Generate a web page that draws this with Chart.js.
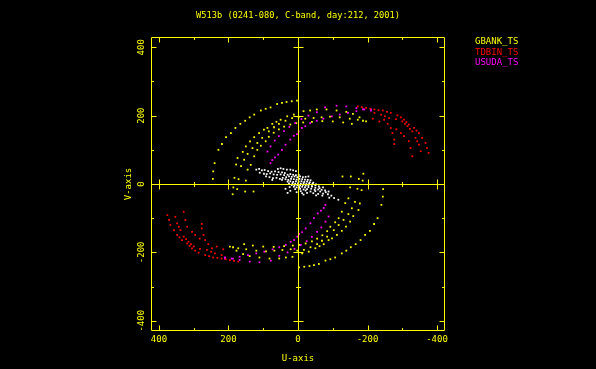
<!DOCTYPE html>
<html><head><meta charset="utf-8">
<script src="https://cdn.jsdelivr.net/npm/chart.js@4"></script>
<style>html,body{margin:0;padding:0;background:#000;}canvas{display:block;}</style>
</head><body>
<canvas id="c" width="596" height="369"></canvas>
<script>
const chartTitle = 'W513b (0241-080, C-band, day:212, 2001)';
const xAxisTitle = 'U-axis';
const yAxisTitle = 'V-axis';
const xTickValues = [400, 200, 0, -200, -400];
const xTickLabels = ['400', '200', '0', '-200', '-400'];
const yTickValues = [400, 200, 0, -200, -400];
const yTickLabels = ['400', '200', '0', '-200', '-400'];
const frameTickValues = [-400, -300, -200, -100, 0, 100, 200, 300, 400];
const seriesNames = ['GBANK_TS', 'TDBIN_TS', 'USUDA_TS'];

// GBANK_TS (u, v) tracks
const gbankA = [[245,15],[244,37],[240,61],[229,100],[219,117],[207,137],[193,149],[180,164],[166,176],[152,185],[139,195],[126,203],[107,215],[93,220],[79,224],[60,234],[46,237],[33,240],[18,242],[3,244]];
const gbankB = [[188,-30],[186,-10],[183,18],[178,57],[174,76],[159,94],[150,110],[138,125],[126,137],[112,149],[98,159],[88,164],[74,176],[62,182],[50,188],[31,198],[12,203],[-16,213],[-35,215],[-54,218],[-82,218],[-111,215],[-139,211],[-158,205],[-177,195],[-187,185]];
const gbankC = [[175,-15],[171,14],[164,52],[155,71],[145,88],[131,105],[117,120],[103,135],[84,154],[69,166],[55,176],[36,185],[17,193],[-2,195],[-21,191],[-45,193],[-68,195],[-92,197],[-120,195],[-149,191],[-172,188],[-196,183]];
const gbankD = [[128,-22],[152,-22],[150,10],[145,42],[136,56],[126,81],[117,100],[107,112],[93,125],[84,138],[70,150],[55,160],[40,168],[22,174],[5,178],[-15,180],[-40,182],[-70,184],[-100,183],[-130,180],[-155,176]];
const gbankAc = [[-245,-15],[-244,-37],[-240,-61],[-229,-100],[-219,-117],[-207,-137],[-193,-149],[-180,-164],[-166,-176],[-152,-185],[-139,-195],[-126,-203],[-107,-215],[-93,-220],[-79,-224],[-60,-234],[-46,-237],[-33,-240],[-18,-242],[-3,-244]];
const gbankBc = [[-188,30],[-186,10],[-183,-18],[-178,-57],[-174,-76],[-159,-94],[-150,-110],[-138,-125],[-126,-137],[-112,-149],[-98,-159],[-88,-164],[-74,-176],[-62,-182],[-50,-188],[-31,-198],[-12,-203],[16,-213],[35,-215],[54,-218],[82,-218],[111,-215],[139,-211],[158,-205],[177,-195],[187,-185]];
const gbankCc = [[-175,15],[-171,-14],[-164,-52],[-155,-71],[-145,-88],[-131,-105],[-117,-120],[-103,-135],[-84,-154],[-69,-166],[-55,-176],[-36,-185],[-17,-193],[2,-195],[21,-191],[45,-193],[68,-195],[92,-197],[120,-195],[149,-191],[172,-188],[196,-183]];
const gbankDc = [[-128,22],[-152,22],[-150,-10],[-145,-42],[-136,-56],[-126,-81],[-117,-100],[-107,-112],[-93,-125],[-84,-138],[-70,-150],[-55,-160],[-40,-168],[-22,-174],[-5,-178],[15,-180],[40,-182],[70,-184],[100,-183],[130,-180],[155,-176]];

// TDBIN_TS tracks
const tdbinR1 = [[-172,227],[-184,225],[-196,223],[-208,220],[-220,218],[-232,216],[-244,215],[-256,211],[-267,208],[-286,201],[-296,195],[-305,188],[-312,181],[-319,174],[-334,164],[-341,156],[-348,149],[-357,135],[-367,120],[-371,105],[-376,91]];
const tdbinR2 = [[-220,208],[-239,203],[-250,198],[-262,193],[-282,190],[-300,183],[-308,176],[-315,169],[-322,161],[-329,154],[-338,135],[-343,125],[-348,115],[-353,96]];
const tdbinR3 = [[-215,191],[-234,183],[-248,188],[-258,176],[-267,164],[-272,149],[-277,130],[-277,117]];
const tdbinR4 = [[-283,160],[-296,149],[-305,140],[-319,125],[-324,105],[-329,81]];
const tdbinR1c = [[172,-227],[184,-225],[196,-223],[208,-220],[220,-218],[232,-216],[244,-215],[256,-211],[267,-208],[286,-201],[296,-195],[305,-188],[312,-181],[319,-174],[334,-164],[341,-156],[348,-149],[357,-135],[367,-120],[371,-105],[376,-91]];
const tdbinR2c = [[220,-208],[239,-203],[250,-198],[262,-193],[282,-190],[300,-183],[308,-176],[315,-169],[322,-161],[329,-154],[338,-135],[343,-125],[348,-115],[353,-96]];
const tdbinR3c = [[215,-191],[234,-183],[248,-188],[258,-176],[267,-164],[272,-149],[277,-130],[277,-117]];
const tdbinR4c = [[283,-160],[296,-149],[305,-140],[319,-125],[324,-105],[329,-81]];

// USUDA_TS tracks
const usudaM1 = [[79,61],[74,70],[66,78],[57,86],[46,100],[36,115],[22,130],[12,141],[3,146],[-2,154],[-11,164],[-21,169],[-35,178],[-54,185],[-73,191],[-97,198],[-120,203],[-144,208],[-168,213],[-191,218],[-210,218]];
const usudaM2 = [[88,95],[79,110],[67,127],[55,140],[40,155],[25,167],[8,178],[-10,190],[-30,200],[-54,210],[-78,224],[-111,229],[-139,227],[-168,222],[-187,218],[-210,215]];
const usudaM1c = [[-79,-61],[-74,-70],[-66,-78],[-57,-86],[-46,-100],[-36,-115],[-22,-130],[-12,-141],[-3,-146],[2,-154],[11,-164],[21,-169],[35,-178],[54,-185],[73,-191],[97,-198],[120,-203],[144,-208],[168,-213],[191,-218],[210,-218]];
const usudaM2c = [[-88,-95],[-79,-110],[-67,-127],[-55,-140],[-40,-155],[-25,-167],[-8,-178],[10,-190],[30,-200],[54,-210],[78,-224],[111,-229],[139,-227],[168,-222],[187,-218],[210,-215]];

// short-baseline points (white, unlabeled)
const shortUV = [
[120,42],[112,44],[104,40],[96,41],[86,38],[76,36],[66,37],[56,35],[46,34],[38,32],
[58,44],[50,46],[42,44],[32,42],[22,42],[14,40],[6,38],
[110,33],[98,30],[90,29],[80,31],[70,28],[60,27],[50,28],[40,26],[30,27],[22,29],[14,27],[6,26],[-2,27],
[92,22],[82,20],[72,17],[62,18],[52,15],[44,18],[34,20],[26,22],[18,21],[10,22],[2,20],[-6,22],[-14,20],[-22,21],[-30,22],
[74,12],[46,12],[36,14],[28,12],[20,15],[12,14],[4,13],[-4,15],[-12,14],[-20,13],[-28,12],[-36,11],
[30,7],[22,8],[14,6],[6,8],[-2,7],[-10,8],[-18,6],[-26,7],[-34,5],[-44,4],
[26,2],[16,2],[8,1],[0,2],[-8,1],[-16,2],[-24,0],[-32,2],[-42,1],[-52,-1],
[18,-3],[10,-4],[2,-3],[-6,-4],[-14,-3],[-22,-5],[-30,-4],[-40,-6],[-50,-4],[-60,-7],
[24,-9],[12,-8],[4,-10],[-4,-9],[-12,-8],[-20,-10],[-30,-9],[-40,-8],[-50,-11],[-62,-12],[-72,-10],
[36,-14],[8,-15],[-6,-14],[-16,-16],[-26,-15],[-38,-14],[-48,-17],[-58,-16],[-68,-17],[-78,-19],
[22,-20],[-8,-21],[-22,-19],[-36,-22],[-50,-21],[-64,-22],[-80,-24],[-88,-22],
[30,-26],[4,-24],[-12,-27],[-26,-26],[-44,-27],[-58,-29],[-72,-28],[-86,-30],
[-16,-31],[-52,-33],[-70,-34],[-96,-34],[-90,-40],[-104,-41],[-116,-46]
];

const YEL = '#ffff00';
const FONT = '"DejaVu Sans Mono", "Liberation Mono", monospace';
const seriesColors = ['#ffff00', '#ff0000', '#ff00ff'];

const toPts = arr => arr.map(p => ({x: p[0], y: p[1]}));

const uvFrame = {
  id: 'uvFrame',
  beforeDraw(chart) {
    const ctx = chart.ctx;
    ctx.save();
    ctx.fillStyle = '#000';
    ctx.fillRect(0, 0, chart.width, chart.height);
    ctx.restore();
  },
  afterDatasetsDraw(chart) {
    const {ctx, chartArea: a, scales: {x, y}} = chart;
    const s = v => Math.round(v) + 0.5;
    ctx.save();
    ctx.strokeStyle = YEL;
    ctx.lineWidth = 1;
    ctx.beginPath();
    const L = s(a.left), R = s(a.right - 1), T = s(a.top), B = s(a.bottom - 1);
    ctx.rect(L, T, R - L, B - T);
    const X0 = s(x.getPixelForValue(0)), Y0 = s(y.getPixelForValue(0));
    ctx.moveTo(X0, T); ctx.lineTo(X0, B);
    ctx.moveTo(L, Y0); ctx.lineTo(R, Y0);
    frameTickValues.forEach(t => {
      const major = t % 200 === 0;
      const fl = major ? 5 : 2.5;
      const zl = major ? 5 : 2.5;
      const xp = s(x.getPixelForValue(t));
      const yp = s(y.getPixelForValue(t));
      ctx.moveTo(xp, B); ctx.lineTo(xp, B - fl);
      ctx.moveTo(xp, T); ctx.lineTo(xp, T + fl);
      ctx.moveTo(L, yp); ctx.lineTo(L + fl, yp);
      ctx.moveTo(R, yp); ctx.lineTo(R - fl, yp);
      ctx.moveTo(xp, Y0 - zl); ctx.lineTo(xp, Y0 + zl);
      ctx.moveTo(X0 - zl, yp); ctx.lineTo(X0 + zl, yp);
    });
    ctx.stroke();

    ctx.fillStyle = YEL;
    ctx.font = '8.7px ' + FONT;
    ctx.textAlign = 'center';
    ctx.textBaseline = 'middle';
    ctx.fillText(chartTitle, (a.left + a.right) / 2, 16);

    ctx.font = '9px ' + FONT;
    yTickValues.forEach((v, i) => {
      ctx.save();
      ctx.translate(141.7, y.getPixelForValue(v));
      ctx.rotate(-Math.PI / 2);
      ctx.fillText(yTickLabels[i], 0, 0);
      ctx.restore();
    });

    ctx.textAlign = 'left';
    seriesNames.forEach((n, i) => {
      ctx.fillStyle = seriesColors[i];
      ctx.fillText(n, 475, 41.7 + i * 10.5);
    });
    ctx.restore();
  }
};

new Chart(document.getElementById('c'), {
  type: 'scatter',
  data: {
    datasets: [
      {label: seriesNames[0], data: toPts([...gbankA, ...gbankB, ...gbankC, ...gbankD, ...gbankAc, ...gbankBc, ...gbankCc, ...gbankDc]), backgroundColor: seriesColors[0], order: 3},
      {label: seriesNames[1], data: toPts([...tdbinR1, ...tdbinR2, ...tdbinR3, ...tdbinR4, ...tdbinR1c, ...tdbinR2c, ...tdbinR3c, ...tdbinR4c]), backgroundColor: seriesColors[1], order: 1},
      {label: seriesNames[2], data: toPts([...usudaM1, ...usudaM2, ...usudaM1c, ...usudaM2c]), backgroundColor: seriesColors[2], order: 2},
      {label: '', data: toPts(shortUV), backgroundColor: '#ffffff', order: 0}
    ]
  },
  options: {
    responsive: false,
    animation: false,
    devicePixelRatio: 1,
    events: [],
    layout: {padding: {left: 118, right: 151, top: 37, bottom: 0}},
    elements: {point: {pointStyle: 'rect', radius: 1.25, borderWidth: 0, hoverRadius: 1.25}},
    plugins: {legend: {display: false}, tooltip: {enabled: false}, title: {display: false}},
    scales: {
      x: {
        type: 'linear', min: -423, max: 423, reverse: true, position: 'bottom',
        grid: {display: false, drawTicks: false}, border: {display: false},
        afterBuildTicks: sc => { sc.ticks = xTickValues.map(v => ({value: v})); },
        afterFit: sc => { sc.height = 38; },
        ticks: {
          color: YEL, font: {family: FONT, size: 9}, padding: 3.6,
          maxRotation: 0, minRotation: 0, autoSkip: false,
          callback: v => xTickLabels[xTickValues.indexOf(v)]
        },
        title: {display: true, text: xAxisTitle, color: YEL, font: {family: FONT, size: 9}, padding: {top: 0, bottom: 4.6}}
      },
      y: {
        type: 'linear', min: -430, max: 430, position: 'left',
        grid: {display: false, drawTicks: false}, border: {display: false},
        ticks: {display: false},
        afterFit: sc => { sc.width = 33; },
        title: {display: true, text: yAxisTitle, color: YEL, font: {family: FONT, size: 9}, padding: {top: 4.9, bottom: 0}}
      }
    }
  },
  plugins: [uvFrame]
});
</script>
</body></html>
